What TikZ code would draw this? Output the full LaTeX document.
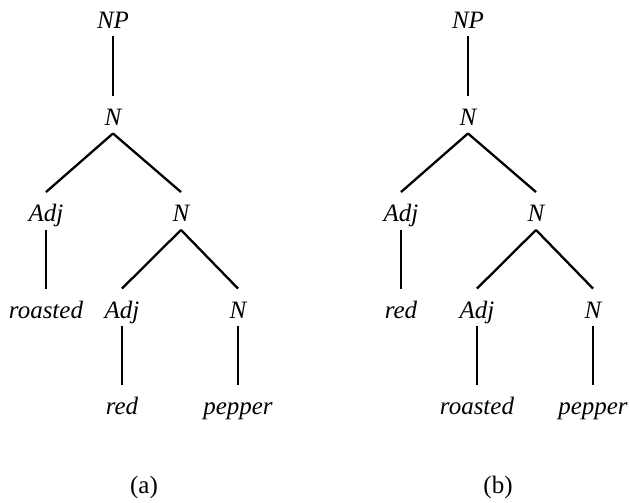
\documentclass[tikz,border=0pt]{standalone}
\usepackage{fontspec}
\setmainfont{Liberation Serif}
\tikzset{
  catbox/.style={inner sep=0pt, text height=16.5pt, text depth=0pt, anchor=center,
    font=\fontsize{25}{29}\selectfont\itshape},
  labelbox/.style={inner sep=0pt, text height=16.5pt, text depth=0pt, anchor=center,
    font=\fontsize{25}{29}\selectfont},
  treeline/.style={line width=2.3pt}
}
\newcommand\treeconn[2]{\draw[treeline] ([yshift=-8pt]#1.south) -- ([yshift=13pt]#2.north);}
\begin{document}
\begin{tikzpicture}[x=1pt,y=-1pt]
\useasboundingbox (0,0) rectangle (630,503);
% tree (a)
\node[catbox] (aNP) at (113,20) {NP};
\node[catbox] (aN1) at (113,117) {N};
\node[catbox] (aAdj1) at (46,213.5) {Adj};
\node[catbox] (aN2) at (181,213.5) {N};
\node[catbox] (aRoasted) at (46,310) {roasted};
\node[catbox] (aAdj2) at (122,310) {Adj};
\node[catbox] (aN3) at (238,310) {N};
\node[catbox] (aRed) at (122,406.5) {red};
\node[catbox] (aPepper) at (238,406.5) {pepper};
\node[labelbox] (aLab) at (144,485) {(a)};
\treeconn{aNP}{aN1}
\treeconn{aN1}{aAdj1}
\treeconn{aN1}{aN2}
\treeconn{aAdj1}{aRoasted}
\treeconn{aN2}{aAdj2}
\treeconn{aN2}{aN3}
\treeconn{aAdj2}{aRed}
\treeconn{aN3}{aPepper}
% tree (b)
\node[catbox] (bNP) at (468,20) {NP};
\node[catbox] (bN1) at (468,117) {N};
\node[catbox] (bAdj1) at (401,213.5) {Adj};
\node[catbox] (bN2) at (536,213.5) {N};
\node[catbox] (bRed) at (401,310) {red};
\node[catbox] (bAdj2) at (477,310) {Adj};
\node[catbox] (bN3) at (593,310) {N};
\node[catbox] (bRoasted) at (477,406.5) {roasted};
\node[catbox] (bPepper) at (593,406.5) {pepper};
\node[labelbox] (bLab) at (498,485) {(b)};
\treeconn{bNP}{bN1}
\treeconn{bN1}{bAdj1}
\treeconn{bN1}{bN2}
\treeconn{bAdj1}{bRed}
\treeconn{bN2}{bAdj2}
\treeconn{bN2}{bN3}
\treeconn{bAdj2}{bRoasted}
\treeconn{bN3}{bPepper}
\end{tikzpicture}
\end{document}
